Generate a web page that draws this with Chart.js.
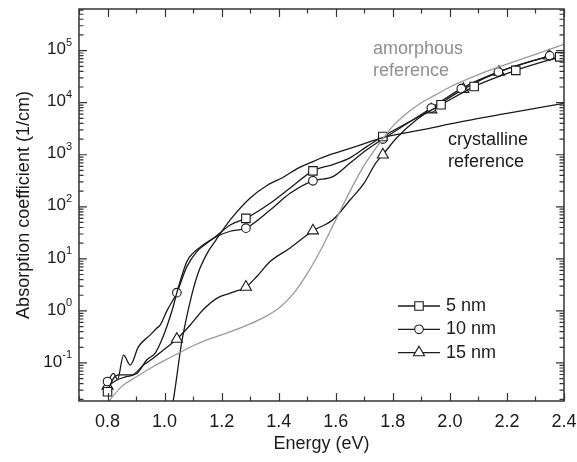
<!DOCTYPE html>
<html>
<head>
<meta charset="utf-8">
<script src="https://cdn.jsdelivr.net/npm/chart.js@4/dist/chart.umd.min.js"></script>
<style>
  body { margin: 0; background: #fff; }
  canvas { display: block; }
</style>
</head>
<body>
<canvas id="absChart" width="577" height="462"></canvas>
<script>
// values (energy in eV, absorption in 1/cm)
const nm5X = [0.80, 0.82, 0.84, 0.88, 0.903, 0.938, 0.967, 0.985, 1.008, 1.03, 1.043, 1.078, 1.10, 1.136, 1.177, 1.23, 1.285, 1.37, 1.44, 1.52, 1.59, 1.65, 1.71, 1.765, 1.969, 2.085, 2.231, 2.385]
const nm5Y = [0.028, 0.05, 0.059, 0.059, 0.063, 0.115, 0.155, 0.24, 0.5, 1.2, 2.24, 8.9, 12.9, 18.6, 26.3, 44.7, 60, 117, 229, 490, 646, 871, 1445, 2240, 9100, 20400, 41700, 75900]
const nm5Marks = [0, 16, 19, 23, 24, 25, 26, 27]

const nm10X = [0.80, 0.821, 0.835, 0.856, 0.88, 0.908, 0.95, 0.973, 0.985, 1.008, 1.043, 1.078, 1.113, 1.136, 1.183, 1.23, 1.285, 1.37, 1.44, 1.52, 1.59, 1.65, 1.71, 1.765, 1.935, 2.04, 2.17, 2.35]
const nm10Y = [0.044, 0.063, 0.048, 0.141, 0.091, 0.204, 0.347, 0.468, 0.537, 1.0, 2.24, 7.1, 13.8, 17.8, 26.9, 33.9, 38.9, 87, 182, 316, 380, 692, 1259, 2000, 7900, 18600, 38900, 79400]
const nm10Marks = [0, 10, 16, 19, 23, 24, 25, 26, 27]

const nm15X = [0.80, 0.833, 0.868, 0.89, 0.926, 0.96, 0.996, 1.043, 1.09, 1.135, 1.183, 1.23, 1.285, 1.323, 1.37, 1.44, 1.52, 1.59, 1.65, 1.70, 1.74, 1.765, 1.813, 1.883, 1.935, 2.047, 2.172, 2.348]
const nm15Y = [0.036, 0.047, 0.055, 0.059, 0.091, 0.123, 0.178, 0.288, 0.537, 1.05, 1.74, 2.19, 2.88, 4.57, 8.9, 16.2, 34.7, 56.2, 135, 288, 692, 1000, 2090, 4680, 7330, 18200, 38900, 79400]
const nm15Marks = [0, 7, 12, 16, 21, 24, 25, 26, 27]

const amorphX = [0.78, 0.85, 0.90, 0.95, 1.00, 1.05, 1.10, 1.15, 1.20, 1.25, 1.30, 1.35, 1.40, 1.45, 1.50, 1.55, 1.60, 1.65, 1.70, 1.75, 1.80, 1.85, 1.90, 1.95, 2.00, 2.10, 2.20, 2.30, 2.40]
const amorphY = [0.0126, 0.0355, 0.0537, 0.079, 0.112, 0.155, 0.214, 0.282, 0.347, 0.437, 0.562, 0.759, 1.12, 2.1, 5.2, 15.8, 56, 200, 630, 1580, 3550, 6300, 10000, 14100, 20000, 34700, 55000, 85000, 132000]

const crystX = [1.015, 1.03, 1.06, 1.093, 1.118, 1.15, 1.18, 1.23, 1.30, 1.36, 1.416, 1.47, 1.52, 1.58, 1.65, 1.71, 1.765, 1.9, 2.05, 2.2, 2.4]
const crystY = [0.008, 0.0186, 0.25, 1.8, 5.4, 13, 23, 56, 148, 260, 370, 560, 740, 1000, 1320, 1700, 2140, 3000, 4400, 6200, 9700]

const yExps = [-1, 0, 1, 2, 3, 4, 5]

const legendItems = [['5 nm', 'rect'], ['10 nm', 'circle'], ['15 nm', 'triangle']]

const ink = '#1a1a1a'
const grey = '#9a9a9a'
const fontFam = '"Liberation Sans", Arial, sans-serif'

const toPts = (xs, ys) => xs.map((x, i) => ({ x, y: ys[i] }))

const sampleSet = (xs, ys, marks, style, r) => ({
    data: toPts(xs, ys),
    borderColor: ink,
    borderWidth: 1.3,
    backgroundColor: '#fff',
    pointBorderColor: ink,
    pointBorderWidth: 1.1,
    pointStyle: style,
    pointRadius: xs.map((_, i) => marks.includes(i) ? r : 0),
    cubicInterpolationMode: 'monotone'
})

const refSet = (xs, ys, color) => ({
    data: toPts(xs, ys),
    borderColor: color,
    borderWidth: 1.3,
    pointRadius: 0,
    cubicInterpolationMode: 'monotone'
})

// frame, inward ticks, y labels with superscripts, notes and legend
const decor = {
    id: 'decor',
    afterDatasetsDraw(chart) {
        const { ctx, chartArea: a, scales: { x, y } } = chart
        ctx.save()
        ctx.strokeStyle = '#333'
        ctx.lineWidth = 1.5
        ctx.strokeRect(a.left, a.top, a.right - a.left, a.bottom - a.top)

        ctx.lineWidth = 1.2
        ctx.beginPath()
        x.ticks.forEach(t => {
            const px = Math.round(x.getPixelForValue(t.value)) + 0.5
            const len = t.label ? 8 : 4.5
            ctx.moveTo(px, a.bottom); ctx.lineTo(px, a.bottom - len)
            ctx.moveTo(px, a.top); ctx.lineTo(px, a.top + len)
        })
        for (let e = -2; e <= 5; e++) {
            for (let m = 1; m <= 9; m++) {
                const v = m * Math.pow(10, e)
                const py = y.getPixelForValue(v)
                if (py < a.top || py > a.bottom) continue
                const len = m === 1 ? 8 : 4.5
                ctx.moveTo(a.left, py); ctx.lineTo(a.left + len, py)
                ctx.moveTo(a.right, py); ctx.lineTo(a.right - len, py)
            }
        }
        ctx.stroke()

        ctx.fillStyle = ink
        ctx.textBaseline = 'middle'
        yExps.forEach(e => {
            const py = y.getPixelForValue(Math.pow(10, e))
            ctx.font = '11px ' + fontFam
            ctx.textAlign = 'left'
            const sup = String(e)
            const sw = ctx.measureText(sup).width
            ctx.fillText(sup, 72 - sw, py - 8)
            ctx.font = '17px ' + fontFam
            ctx.textAlign = 'right'
            ctx.fillText('10', 72 - sw, py - 1)
        })

        ctx.font = '18px ' + fontFam
        ctx.textAlign = 'left'
        ctx.fillStyle = '#8f8f8f'
        ctx.fillText('amorphous', 373, 49)
        ctx.fillText('reference', 373, 71)
        ctx.fillStyle = ink
        ctx.fillText('crystalline', 448, 140)
        ctx.fillText('reference', 448, 162)

        legendItems.forEach(([txt, style], i) => {
            const ly = 306 + i * 23.3
            ctx.strokeStyle = ink
            ctx.lineWidth = 1.3
            ctx.beginPath(); ctx.moveTo(398, ly); ctx.lineTo(440, ly); ctx.stroke()
            ctx.fillStyle = '#fff'
            ctx.lineWidth = 1.1
            const r = style === 'rect' ? 6 : style === 'circle' ? 4.3 : 6.4
            Chart.helpers.drawPoint(ctx, { pointStyle: style, radius: r, borderWidth: 1.1 }, 419, ly)
            ctx.fillStyle = ink
            ctx.fillText(txt, 446, ly)
        })
        ctx.restore()
    }
}

new Chart('absChart', {
    type: 'line',
    data: {
        datasets: [
            refSet(amorphX, amorphY, grey),
            refSet(crystX, crystY, ink),
            sampleSet(nm5X, nm5Y, nm5Marks, 'rect', 6),
            sampleSet(nm10X, nm10Y, nm10Marks, 'circle', 4.3),
            sampleSet(nm15X, nm15Y, nm15Marks, 'triangle', 6.4)
        ]
    },
    options: {
        responsive: false,
        animation: false,
        layout: { padding: { left: 0, right: 13, top: 9, bottom: 0 } },
        plugins: { legend: { display: false }, tooltip: { enabled: false } },
        scales: {
            x: {
                type: 'linear', min: 0.7, max: 2.4,
                afterFit: s => { s.height = 61; s.paddingLeft = 0; s.paddingRight = 0 },
                grid: { display: false, drawTicks: false },
                border: { display: false },
                ticks: {
                    stepSize: 0.1, padding: 10, maxRotation: 0, autoSkip: false,
                    color: ink, font: { family: fontFam, size: 18 },
                    callback: v => {
                        const k = Math.round(v * 10)
                        return (k % 2 === 0 && k >= 8) ? (k / 10).toFixed(1) : ''
                    }
                },
                title: {
                    display: true, text: 'Energy (eV)', color: ink,
                    font: { family: fontFam, size: 18 }, padding: { top: 0, bottom: 7 }
                }
            },
            y: {
                type: 'logarithmic', min: 0.0186, max: 6.3e5,
                afterFit: s => { s.width = 79; s.paddingTop = 0; s.paddingBottom = 0 },
                grid: { display: false },
                border: { display: false },
                ticks: { display: false },
                title: {
                    display: true, text: 'Absorption coefficient (1/cm)', color: ink,
                    font: { family: fontFam, size: 18 }, padding: { top: 13, bottom: 0 }
                }
            }
        }
    },
    plugins: [decor]
})
</script>
</body>
</html>
